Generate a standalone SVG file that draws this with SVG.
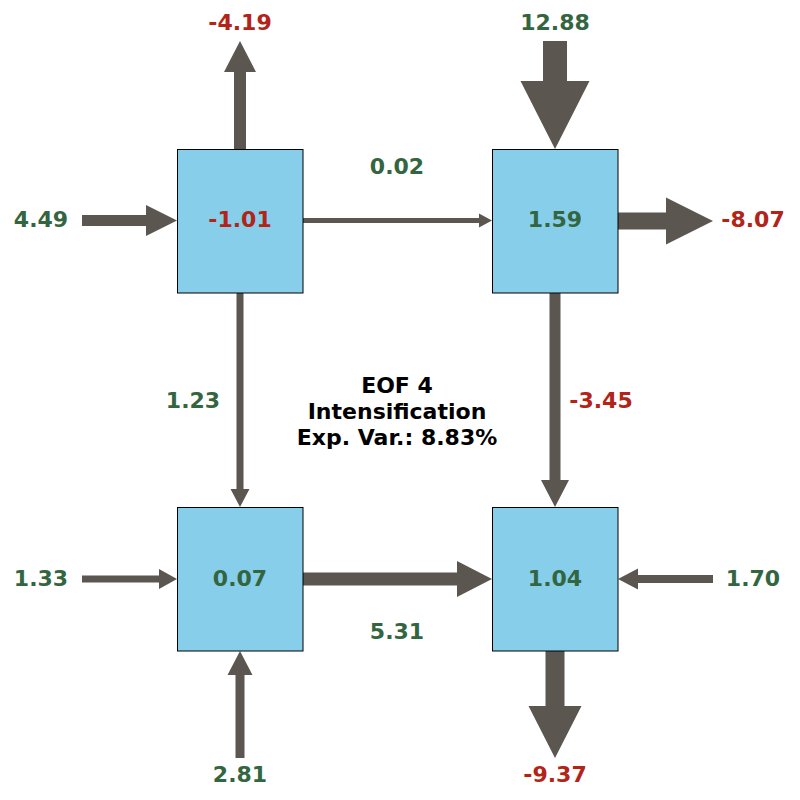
<svg xmlns="http://www.w3.org/2000/svg" width="800" height="800" viewBox="0 0 800 800">
  <style>
    .arrow { fill: #5b5750; stroke: none; }
    .box { fill: #87ceeb; stroke: #000000; stroke-width: 1; }
    text { font-family: "DejaVu Sans", "Liberation Sans", sans-serif; font-weight: bold; font-size: 22px; text-anchor: middle; }
    .pos { fill: #336640; }
    .neg { fill: #b22418; }
    .title { fill: #000000; }
  </style>
  <rect width="800" height="800" fill="#ffffff"/>

  <!-- flux arrows between boxes and to/from the outside -->
  <g id="connectors">
    <!-- top-left box: outflow upward -->
    <polygon class="arrow" points="234,149 246,149 246,72 256,72 240,41 224,72 234,72"/>
    <!-- top-right box: inflow from above -->
    <polygon class="arrow" points="543,41 567,41 567,81 589.5,81 555,149 520.5,81 543,81"/>
    <!-- top-left box: inflow from the left -->
    <polygon class="arrow" points="82,215 146,215 146,205 177,220.5 146,236 146,226 82,226"/>
    <!-- top-right box: outflow to the right -->
    <polygon class="arrow" points="618,212.5 666,212.5 666,197.5 713,221 666,244.5 666,229.5 618,229.5"/>
    <!-- top-left to top-right -->
    <polygon class="arrow" points="303,218 479,218 479,213.5 492,220.5 479,227.5 479,223 303,223"/>
    <!-- top-left to bottom-left -->
    <polygon class="arrow" points="236.5,293 243.5,293 243.5,489 249.5,489 240,507 230.5,489 236.5,489"/>
    <!-- top-right to bottom-right -->
    <polygon class="arrow" points="549.5,293 560.5,293 560.5,480 569,480 555,507 541,480 549.5,480"/>
    <!-- bottom-left box: inflow from the left -->
    <polygon class="arrow" points="82,575.5 159,575.5 159,569 177,579 159,589 159,582.5 82,582.5"/>
    <!-- bottom-right box: inflow from the right -->
    <polygon class="arrow" points="713,575 638,575 638,568.5 618,579 638,589.5 638,583 713,583"/>
    <!-- bottom-left to bottom-right -->
    <polygon class="arrow" points="303,572.5 457,572.5 457,561 492,579 457,597 457,585.5 303,585.5"/>
    <!-- bottom-right box: outflow downward -->
    <polygon class="arrow" points="545.5,651 564.5,651 564.5,706 581.5,706 555,758 528.5,706 545.5,706"/>
    <!-- bottom-left box: inflow from below -->
    <polygon class="arrow" points="235.5,758 244.5,758 244.5,675 252.5,675 240,651 227.5,675 235.5,675"/>

    <!-- flux values -->
    <text class="neg" x="240" y="30">-4.19</text>
    <text class="pos" x="555" y="30">12.88</text>
    <text class="pos" x="41" y="227">4.49</text>
    <text class="neg" x="753" y="227">-8.07</text>
    <text class="pos" x="397" y="174">0.02</text>
    <text class="pos" x="193" y="408">1.23</text>
    <text class="neg" x="601" y="408">-3.45</text>
    <text class="pos" x="41" y="586">1.33</text>
    <text class="pos" x="753" y="586">1.70</text>
    <text class="pos" x="397" y="639">5.31</text>
    <text class="pos" x="240" y="782">2.81</text>
    <text class="neg" x="555" y="782">-9.37</text>
  </g>

  <!-- boxes -->
  <g id="box-top-left">
    <rect class="box" x="177.5" y="149.5" width="125.5" height="143.5"/>
    <text class="neg" x="240" y="227">-1.01</text>
  </g>
  <g id="box-top-right">
    <rect class="box" x="492.5" y="149.5" width="125.5" height="143.5"/>
    <text class="pos" x="555" y="227">1.59</text>
  </g>
  <g id="box-bottom-left">
    <rect class="box" x="177.5" y="507.5" width="125.5" height="143.5"/>
    <text class="pos" x="240" y="586">0.07</text>
  </g>
  <g id="box-bottom-right">
    <rect class="box" x="492.5" y="507.5" width="125.5" height="143.5"/>
    <text class="pos" x="555" y="586">1.04</text>
  </g>

  <!-- title -->
  <g id="title">
    <text class="title" x="397" y="393">EOF 4</text>
    <text class="title" x="397" y="419">Intensification</text>
    <text class="title" x="397" y="445">Exp. Var.: 8.83%</text>
  </g>
</svg>
